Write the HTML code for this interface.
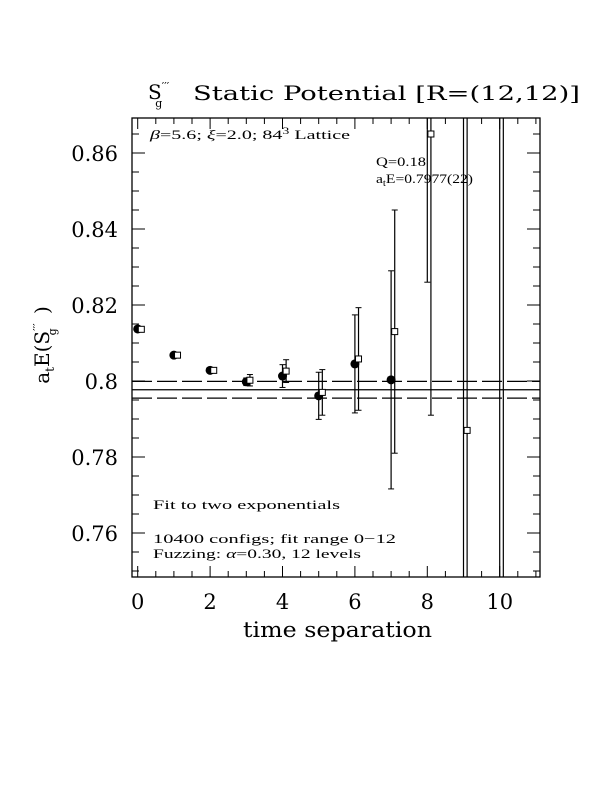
<!DOCTYPE html>
<html><head><meta charset="utf-8"><style>
html,body{margin:0;padding:0;background:#fff;overflow:hidden;width:612px;height:792px}
svg{display:block}
svg text{font-family:"Liberation Serif",serif;fill:#000}
.big{font-family:"DejaVu Serif","Liberation Serif",serif}
</style></head><body>
<svg id="c" width="612" height="792" viewBox="0 0 612 792">
<text x="148" y="99" font-size="20" class="big">S<tspan font-size="11" dy="-9">′′′</tspan><tspan font-size="11" dx="-14" dy="17">g</tspan></text>
<text x="193" y="100" font-size="20" class="big" textLength="387" lengthAdjust="spacingAndGlyphs">Static Potential [R=(12,12)]</text>
<g id="plot"></g>
<text x="150" y="139" font-size="13" textLength="200" lengthAdjust="spacingAndGlyphs"><tspan font-style="italic">β</tspan>=5.6; <tspan font-style="italic">ξ</tspan>=2.0; 84<tspan font-size="9" dy="-5">3</tspan><tspan dy="5"> Lattice</tspan></text>
<text x="376" y="166" font-size="13" textLength="50" lengthAdjust="spacingAndGlyphs">Q=0.18</text>
<text x="376" y="183" font-size="13" textLength="97" lengthAdjust="spacingAndGlyphs">a<tspan font-size="9" dy="3">t</tspan><tspan dy="-3">E=0.7977(22)</tspan></text>
<text x="153" y="509" font-size="13" textLength="187" lengthAdjust="spacingAndGlyphs">Fit to two exponentials</text>
<text x="153" y="543" font-size="13" textLength="243" lengthAdjust="spacingAndGlyphs">10400 configs; fit range 0−12</text>
<text x="153" y="558" font-size="13" textLength="208" lengthAdjust="spacingAndGlyphs">Fuzzing: <tspan font-style="italic">α</tspan>=0.30, 12 levels</text>
<text x="243" y="637" font-size="21" class="big" textLength="189" lengthAdjust="spacingAndGlyphs">time separation</text>
<text transform="translate(49,345) rotate(-90)" font-size="20" class="big" text-anchor="middle">a<tspan font-size="12" dy="5">t</tspan><tspan dy="-5">E(S</tspan><tspan font-size="11" dy="-8">′′′</tspan><tspan font-size="11" dx="-12" dy="15">g</tspan><tspan dy="-7" dx="8"> )</tspan></text>
</svg>
<script>
const times=[0,1,2,3,4,5,6,7,8,9,10];
const circVals=[0.8137,0.8068,0.8028,0.7998,0.8013,0.7961,0.8045,0.8003,0.90,0.95,0.95];
const circErrs=[0.0004,0.0004,0.0004,0.001,0.003,0.0062,0.0129,0.0287,0.074,0.5,0.5];
const sqVals=[0.8136,0.8068,0.8028,0.8002,0.8026,0.797,0.8058,0.813,0.865,0.787,0.95];
const sqErrs=[0.0004,0.0004,0.0004,0.0015,0.003,0.006,0.0135,0.032,0.074,0.5,0.5];
const fitE=0.7977, fitErr=0.0022;
const xTicks=[0,2,4,6,8,10];
const yTicks=[0.76,0.78,0.80,0.82,0.84,0.86];
const yTickLabels=["0.76","0.78","0.8","0.82","0.84","0.86"];
const L=132,R=540,T=118,B=577;
const X=v=>137.7+v*36.2;
const Y=v=>381-(v-0.80)*3800;
const g=document.getElementById('plot');
const NS='http://www.w3.org/2000/svg';
function mk(t,a){const e=document.createElementNS(NS,t);for(const k in a)e.setAttribute(k,a[k]);g.appendChild(e);return e;}
const cp=document.createElementNS(NS,'clipPath');cp.setAttribute('id','cl');
const cr=document.createElementNS(NS,'rect');cr.setAttribute('x',L);cr.setAttribute('y',T);cr.setAttribute('width',R-L);cr.setAttribute('height',B-T);cp.appendChild(cr);g.appendChild(cp);
let f=mk('rect',{x:L,y:T,width:R-L,height:B-T,fill:'none',stroke:'#000','stroke-width':1.3});


for(let v=0;v<=11.001;v+=0.5){const maj=Math.abs(v/2-Math.round(v/2))<1e-6;const len=maj?11:6;
 mk('line',{x1:X(v),x2:X(v),y1:B,y2:B-len,stroke:'#000'});mk('line',{x1:X(v),x2:X(v),y1:T,y2:T+len,stroke:'#000'});}
xTicks.forEach(v=>{const t=mk('text',{x:X(v),y:609,'font-size':21,'text-anchor':'middle',class:'big'});t.textContent=v;

});
for(let v=0.75;v<=0.8691;v+=0.005){const maj=Math.abs(v/0.02-Math.round(v/0.02))<1e-6;const len=maj?13:7;
 mk('line',{x1:L,x2:L+len,y1:Y(v),y2:Y(v),stroke:'#000'});mk('line',{x1:R,x2:R-len,y1:Y(v),y2:Y(v),stroke:'#000'});}
yTicks.forEach((v,i)=>{const t=mk('text',{x:118,y:Y(v)+8,'font-size':21,'text-anchor':'end',class:'big'});t.textContent=yTickLabels[i];

});
const cg=document.createElementNS(NS,'g');cg.setAttribute('clip-path','url(#cl)');g.appendChild(cg);
function add(t,a){const e=document.createElementNS(NS,t);for(const k in a)e.setAttribute(k,a[k]);cg.appendChild(e);return e;}
let fl=add('line',{x1:L,x2:R,y1:Y(fitE),y2:Y(fitE),stroke:'#000','stroke-width':1.2});


[fitE+fitErr,fitE-fitErr].forEach(v=>{const d=add('line',{x1:L,x2:R,y1:Y(v),y2:Y(v),stroke:'#000','stroke-width':1.2,'stroke-dasharray':'20,5'});

});
function eb(x,v,e){const x0=X(x);add('line',{x1:x0,x2:x0,y1:Y(v+e),y2:Y(v-e),stroke:'#000','stroke-width':1.2});
 add('line',{x1:x0-3,x2:x0+3,y1:Y(v+e),y2:Y(v+e),stroke:'#000'});add('line',{x1:x0-3,x2:x0+3,y1:Y(v-e),y2:Y(v-e),stroke:'#000'});}
times.forEach((t,i)=>{eb(t,circVals[i],circErrs[i]);const c=add('circle',{cx:X(t),cy:Y(circVals[i]),r:4.5,fill:'#000'});

});
times.forEach((t,i)=>{const tx=t+0.1;eb(tx,sqVals[i],sqErrs[i]);const s=add('rect',{x:X(tx)-3,y:Y(sqVals[i])-3,width:6,height:6,fill:'#fff',stroke:'#000'});

});
</script>
</body></html>
